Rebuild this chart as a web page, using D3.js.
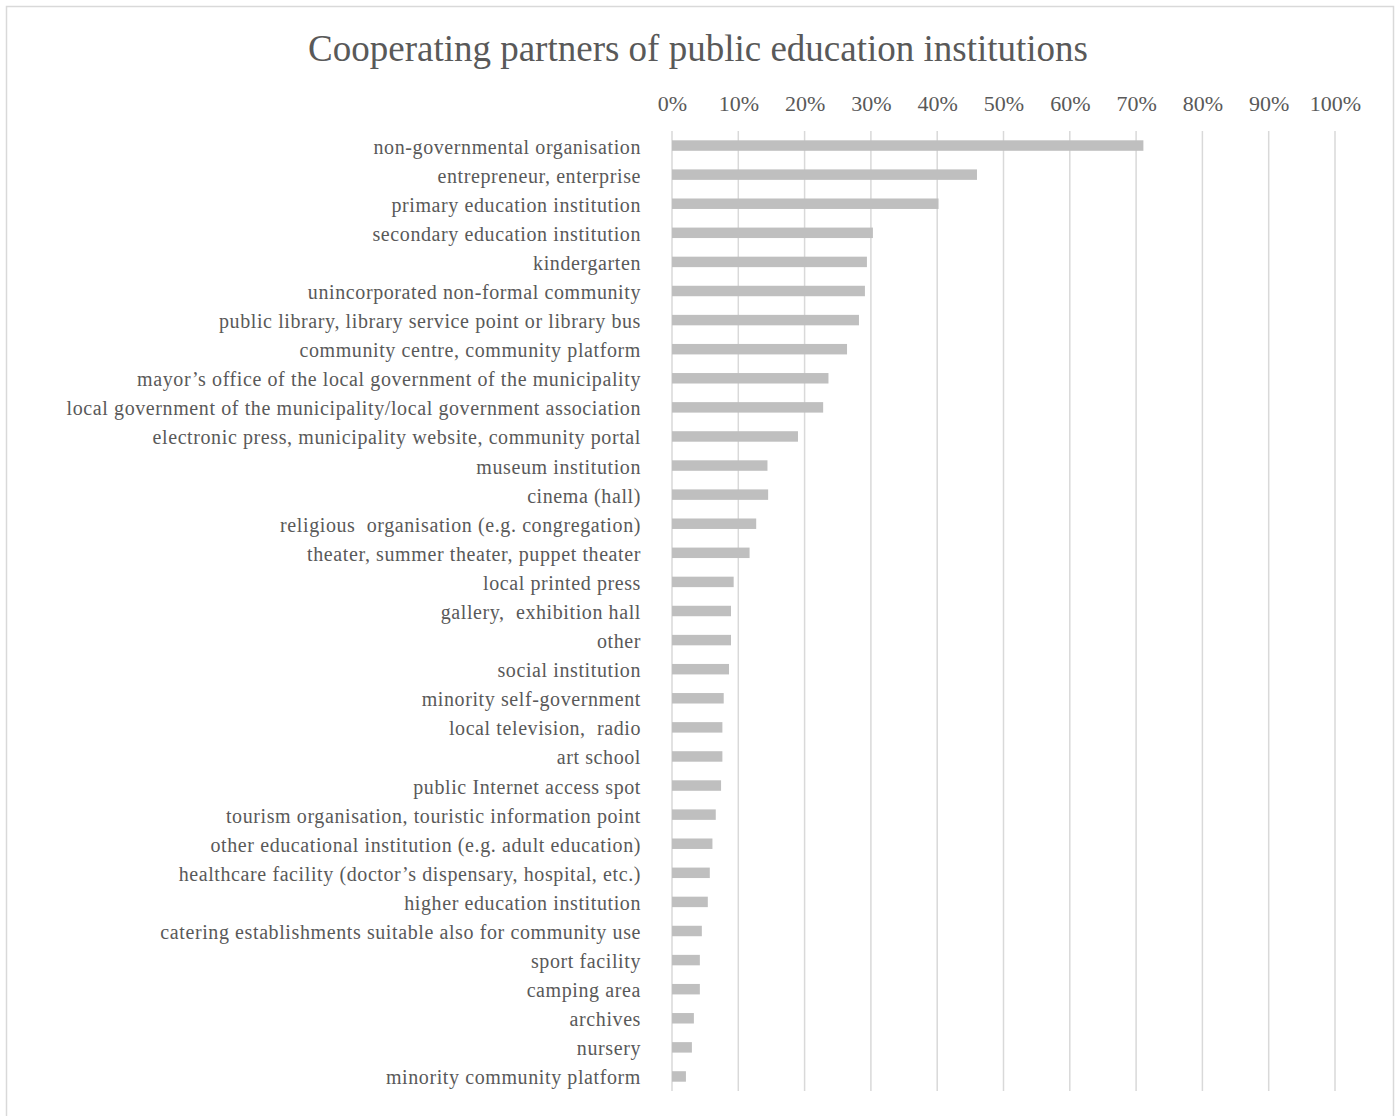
<!DOCTYPE html>
<html>
<head>
<meta charset="utf-8">
<script src="https://cdn.jsdelivr.net/npm/d3@7"></script>
<style>
  html, body { margin: 0; padding: 0; background: #fff; }
  svg { display: block; }
</style>
</head>
<body>
<svg id="chart" width="1399" height="1116"></svg>
<script>
// Partner categories, top to bottom
const categories = [
  "non-governmental organisation",
  "entrepreneur, enterprise",
  "primary education institution",
  "secondary education institution",
  "kindergarten",
  "unincorporated non-formal community",
  "public library, library service point or library bus",
  "community centre, community platform",
  "mayor’s office of the local government of the municipality",
  "local government of the municipality/local government association",
  "electronic press, municipality website, community portal",
  "museum institution",
  "cinema (hall)",
  "religious  organisation (e.g. congregation)",
  "theater, summer theater, puppet theater",
  "local printed press",
  "gallery,  exhibition hall",
  "other",
  "social institution",
  "minority self-government",
  "local television,  radio",
  "art school",
  "public Internet access spot",
  "tourism organisation, touristic information point",
  "other educational institution (e.g. adult education)",
  "healthcare facility (doctor’s dispensary, hospital, etc.)",
  "higher education institution",
  "catering establishments suitable also for community use",
  "sport facility",
  "camping area",
  "archives",
  "nursery",
  "minority community platform"
];

// Share of institutions cooperating with each partner (%)
const shares = [
  71.1, 46.0, 40.2, 30.3, 29.4, 29.1, 28.2, 26.4, 23.6, 22.8, 19.0,
  14.4, 14.5, 12.7, 11.7, 9.3, 8.9, 8.9, 8.6, 7.8, 7.6, 7.6, 7.4,
  6.6, 6.1, 5.7, 5.4, 4.5, 4.2, 4.2, 3.3, 3.0, 2.1
];

const tickValues = [0, 10, 20, 30, 40, 50, 60, 70, 80, 90, 100];
const title = "Cooperating partners of public education institutions";

const svg = d3.select("#chart");
const W = 1399, H = 1116;
const plot = { left: 672, right: 1335, top: 131, bottom: 1091 };
const textColor = "#595959";
const font = "'Liberation Serif', 'Times New Roman', serif";

// Outer chart frame
svg.append("rect")
  .attr("x", 6.5).attr("y", 6.5)
  .attr("width", 1387).attr("height", H + 10)
  .attr("fill", "#fff")
  .attr("stroke", "#d9d9d9").attr("stroke-width", 1.5);

const x = d3.scaleLinear().domain([0, 100]).range([plot.left, plot.right]);
const y = d3.scaleBand().domain(categories).range([plot.top, plot.bottom])
  .paddingInner(0.64).paddingOuter(0.32);

// Vertical gridlines
svg.append("g")
  .selectAll("line")
  .data(tickValues)
  .join("line")
  .attr("x1", d => x(d)).attr("x2", d => x(d))
  .attr("y1", plot.top).attr("y2", plot.bottom)
  .attr("stroke", "#d9d9d9").attr("stroke-width", 1.5);

// Top percentage axis
const xAxis = d3.axisTop(x).tickValues(tickValues).tickFormat(d => d + "%").tickSize(0).tickPadding(0);
const gx = svg.append("g").attr("transform", `translate(0, 111)`).call(xAxis);
gx.select(".domain").remove();
gx.selectAll("text")
  .attr("fill", textColor)
  .attr("font-family", font)
  .attr("font-size", 22)
  .attr("dy", 0);

// Bars
svg.append("g")
  .selectAll("rect")
  .data(categories.map((c, i) => ({ c, v: shares[i] })))
  .join("rect")
  .attr("x", x(0))
  .attr("y", d => y(d.c))
  .attr("width", d => x(d.v) - x(0))
  .attr("height", y.bandwidth())
  .attr("fill", "#bfbfbf");

// Category labels
const yAxis = d3.axisLeft(y).tickSize(0).tickPadding(31);
const gy = svg.append("g").attr("transform", `translate(${plot.left}, 0)`).call(yAxis);
gy.select(".domain").remove();
gy.selectAll("text")
  .attr("fill", textColor)
  .attr("font-family", font)
  .attr("font-size", 20)
  .attr("letter-spacing", 0.6)
  .attr("dy", "0.4em")
  .style("white-space", "pre");

// Title
svg.append("text")
  .attr("x", 698).attr("y", 61)
  .attr("text-anchor", "middle")
  .attr("fill", textColor)
  .attr("font-family", font)
  .attr("font-size", 37)
  .text(title);
</script>
</body>
</html>
